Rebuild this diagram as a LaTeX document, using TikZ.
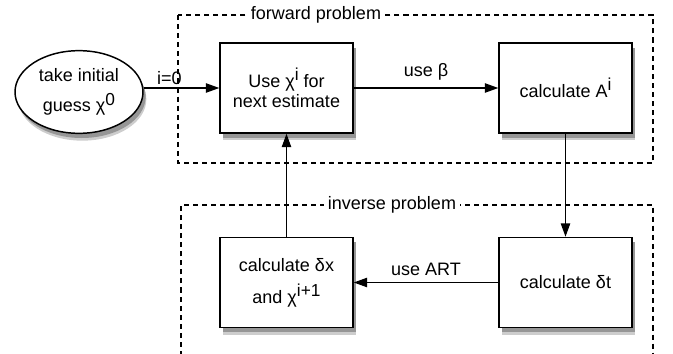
\documentclass[tikz,border=0pt]{standalone}
\usepackage{fontspec}
\setmainfont{Liberation Sans}
\usetikzlibrary{shapes.geometric,shadows,arrows.meta}

\definecolor{shadowgrey}{RGB}{150,150,150}
\definecolor{shadowlight}{RGB}{205,205,205}
\newcommand{\upidx}[1]{\raisebox{0.38em}{\fontsize{13}{13}\selectfont #1}}

\tikzset{
  softshadow/.style={
    general shadow={fill=shadowlight, shadow xshift=2.5pt, shadow yshift=-5.5pt},
    general shadow={fill=shadowgrey, shadow xshift=2pt, shadow yshift=-3.5pt}},
  stepbox/.style={draw, line width=1.1pt, fill=white, align=center,
    minimum width=99.75pt, minimum height=67.5pt, inner sep=2pt, softshadow},
  startnode/.style={ellipse, draw, line width=1.1pt, fill=white, align=center,
    minimum width=96pt, minimum height=62pt, inner sep=0pt, softshadow},
  flow/.style={line width=0.9pt, -{Triangle[length=10pt,width=7pt]}},
  frame/.style={line width=0.9pt, dash pattern=on 3.8pt off 3pt},
  framelabel/.style={fill=white, inner sep=3pt},
}

\begin{document}
\begin{tikzpicture}[x=0.75pt,y=0.75pt,yscale=-1,xscale=1,
  font=\fontsize{13.5}{15}\selectfont]
\useasboundingbox (0,0) rectangle (673,353);

% frames
\draw [frame] (178,15) rectangle (653,163);
\node [framelabel] (fwdlabel) at (316,15) {forward problem};
\draw [frame] (181,356) -- (181,205) -- (653,205) -- (653,356);
\node [framelabel] (invlabel) at (392,205) {inverse problem};

% steps
\node [startnode] (guess) at (79,92) {take initial\\[8pt]guess χ\upidx{0}};
\node [stepbox] (useest) at (286.5,88) {Use χ\upidx{i} for\\next estimate};
\node [stepbox] (calcA) at (565.5,88) {calculate A\upidx{i}};
\node [stepbox] (calcdt) at (565.5,282.5) {calculate δt};
\node [stepbox] (calcdx) at (286.5,282.5) {calculate δx\\[9pt]and χ\upidx{i+1}};

% connectors
\draw [flow] (guess.east |- useest) -- node [pos=0.34, above, inner sep=2pt] {i=0} (useest);
\draw [flow] (useest) -- node [above, inner sep=5pt] {use β} (calcA);
\draw [flow] (calcA) -- (calcdt);
\draw [flow] (calcdt) -- node [above, inner sep=5pt] {use ART} (calcdx);
\draw [flow] (calcdx) -- (useest);
\end{tikzpicture}
\end{document}
